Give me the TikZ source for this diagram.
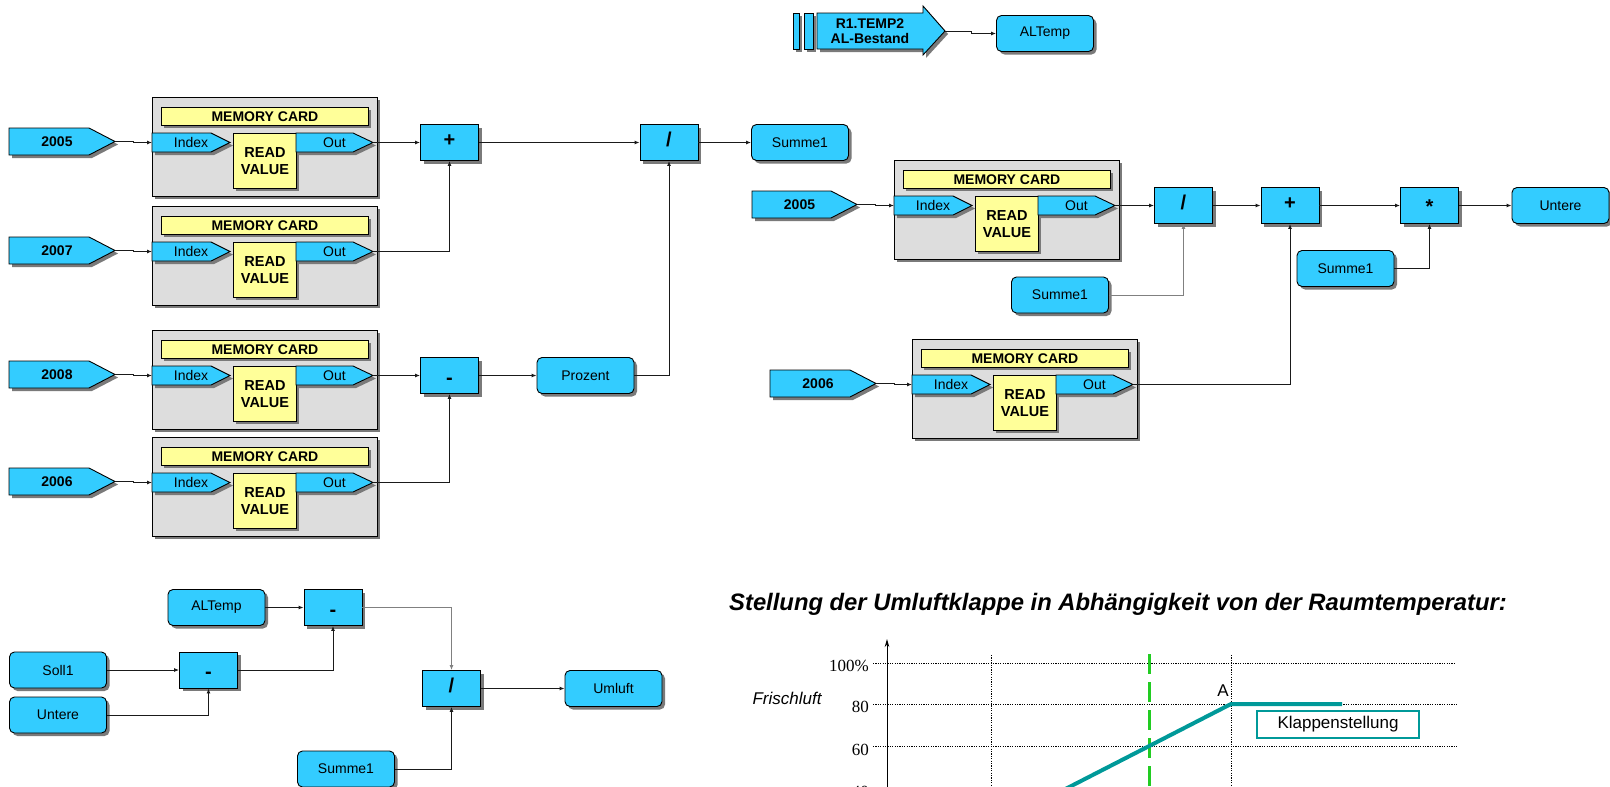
\documentclass[tikz,border=0pt]{standalone}
\usepackage{fontspec}
\setmainfont{Liberation Sans}
\newfontfamily\numfont{Liberation Serif}
\usetikzlibrary{arrows.meta,shadows}

\definecolor{cyanb}{HTML}{33CCFF}
\definecolor{cardgray}{HTML}{DDDDDD}
\definecolor{padyellow}{HTML}{FFFF99}
\definecolor{shadowgray}{HTML}{7A7A7A}
\definecolor{wire}{HTML}{1A1A1A}
\definecolor{wiregray}{HTML}{808080}
\definecolor{curveteal}{HTML}{009999}
\definecolor{markgreen}{HTML}{22CC22}

\newcommand\fs[1]{\fontsize{#1pt}{#1pt}\selectfont}
% operator glyphs moved to sit like the block symbols
\newcommand\opminus{\raisebox{-4.5pt}{-}}
\newcommand\optimes{\raisebox{-4pt}{*}}

\tikzset{
  shd/.style={drop shadow={shadow xshift=3pt, shadow yshift=-3pt, opacity=1, fill=shadowgray}},
  blk/.style={draw=black, line width=0.9pt},
  opbox/.style={blk, fill=cyanb, minimum width=58pt, minimum height=36pt, inner sep=0pt,
    text height=14pt, text depth=6pt, font=\fs{20}\bfseries, shd},
  valbox/.style={blk, fill=cyanb, rounded corners=5pt, minimum width=97pt, minimum height=36pt,
    inner sep=0pt, font=\fs{14}, shd},
  cardbox/.style={blk, fill=cardgray, minimum width=225pt, minimum height=99pt, inner sep=0pt,
    anchor=north west, shd},
  cardtitle/.style={blk, fill=padyellow, minimum width=207pt, minimum height=18pt, inner sep=0pt,
    anchor=north west, font=\fs{14}\bfseries, shd},
  readbox/.style={blk, fill=padyellow, minimum width=63pt, minimum height=55pt, inner sep=0pt,
    anchor=north west, font=\fontsize{14.5pt}{17pt}\selectfont\bfseries, align=center, shd},
  tagshape/.style={blk, fill=cyanb, shd},
  tagtxt/.style={font=\fs{14}\bfseries, inner sep=0pt, xshift=-5pt},
  porttxt/.style={font=\fs{14}, inner sep=0pt},
  wirec/.style={draw=wire, line width=0.9pt, -{Latex[length=5pt,width=4pt]}},
  wireg/.style={wirec, draw=wiregray},
  dotline/.style={draw=black, line width=0.9pt, dash pattern=on 1.2pt off 1.2pt},
  axisnum/.style={font=\numfont\fs{17}, anchor=east, inner sep=0pt},
}

% pointed tag: name, left, top, bottom, shoulder x, tip x, text style, text
\newcommand\tagbox[8]{%
  \path[tagshape] (#2,#3) -- (#5,#3) -- (#6,{(#3+#4)/2}) -- (#5,#4) -- (#2,#4) -- cycle;
  \coordinate (#1-w) at (#2,{(#3+#4)/2});
  \coordinate (#1-tip) at (#6,{(#3+#4)/2});
  \node[#7] (#1) at ({(#2+#6)/2},{(#3+#4)/2}) {#8};
}

% memory card block: name, left, top
\newcommand\memcard[3]{%
  \begin{scope}[shift={(#2,#3)}]
    \node[cardbox] (#1) at (0,0) {};
    \node[cardtitle] (#1-title) at (9,10) {MEMORY CARD};
    \node[readbox] (#1-read) at (81,36) {READ\\VALUE};
    \tagbox{#1-idx}{0}{36}{55}{59}{78}{porttxt}{Index}
    \tagbox{#1-out}{144}{36}{55}{201}{221}{porttxt}{Out}
  \end{scope}}

\begin{document}
\begin{tikzpicture}[x=1pt,y=-1pt]
\useasboundingbox (0,0) rectangle (1610,787);

% ---------- source tag at the top ----------
\path[tagshape] (793,13) rectangle (799,49);
\path[tagshape] (804,13) rectangle (813,49);
\path[tagshape] (817,13) -- (923,13) -- (923,6) -- (945,31) -- (923,55) -- (923,49) -- (817,49) -- cycle;
\node[font=\fontsize{14pt}{15pt}\selectfont\bfseries, align=center, inner sep=0pt] (r1) at (870,31) {R1.TEMP2\\AL-Bestand};
\coordinate (r1-tip) at (945,31);
\node[valbox] (altempA) at (1045,33.5) {ALTemp};
\draw[wirec] (r1-tip) -- ++(26,0) |- (altempA.west);

% ---------- left group ----------
\memcard{mc1}{152}{97}
\memcard{mc2}{152}{206}
\memcard{mc3}{152}{330}
\memcard{mc4}{152}{437}
\tagbox{in1}{9}{128}{155}{89}{115}{tagtxt}{2005}
\tagbox{in2}{9}{237}{264}{89}{115}{tagtxt}{2007}
\tagbox{in3}{9}{361}{388}{89}{115}{tagtxt}{2008}
\tagbox{in4}{9}{468}{495}{89}{115}{tagtxt}{2006}

\node[opbox] (plus1) at (449.5,142.5) {+};
\node[opbox] (minus1) at (449.5,375.5) {\opminus};
\node[opbox] (div1) at (669,142.5) {/};
\node[valbox] (summeA) at (800,142.5) {Summe1};
\node[valbox] (prozent) at (585.5,375.5) {Prozent};

\draw[wirec] (in1-tip) -- ++(18,0) |- (mc1-idx-w);
\draw[wirec] (in2-tip) -- ++(18,0) |- (mc2-idx-w);
\draw[wirec] (in3-tip) -- ++(18,0) |- (mc3-idx-w);
\draw[wirec] (in4-tip) -- ++(18,0) |- (mc4-idx-w);
\draw[wirec] (mc1-out-tip) -- (plus1.west);
\draw[wirec] (mc2-out-tip) -| (plus1.south);
\draw[wirec] (mc3-out-tip) -- (minus1.west);
\draw[wirec] (mc4-out-tip) -| (minus1.south);
\draw[wirec] (plus1.east) -- (div1.west);
\draw[wirec] (div1.east) -- (summeA.west);
\draw[wirec] (minus1.east) -- (prozent.west);
\draw[wirec] (prozent.east) -| (div1.south);

% ---------- right group ----------
\memcard{mr1}{894}{160}
\memcard{mr2}{912}{339}
\tagbox{inr1}{752}{191}{218}{831}{857}{tagtxt}{2005}
\tagbox{inr2}{770}{370}{397}{850}{876}{tagtxt}{2006}

\node[opbox] (div2) at (1183.5,205.5) {/};
\node[opbox] (plus2) at (1290,205.5) {+};
\node[opbox] (mul) at (1429.5,205.5) {\optimes};
\node[valbox] (untereA) at (1560.5,205.5) {Untere};
\node[valbox] (summeB) at (1060,295) {Summe1};
\node[valbox] (summeC) at (1345.5,268.5) {Summe1};

\draw[wirec] (inr1-tip) -- ++(18,0) |- (mr1-idx-w);
\draw[wirec] (inr2-tip) -- ++(18,0) |- (mr2-idx-w);
\draw[wirec] (mr1-out-tip) -- (div2.west);
\draw[wirec] (div2.east) -- (plus2.west);
\draw[wirec] (plus2.east) -- (mul.west);
\draw[wirec] (mul.east) -- (untereA.west);
\draw[wireg] (summeB.east) -| (div2.south);
\draw[wirec] (summeC.east) -| (mul.south);
\draw[wirec] (mr2-out-tip) -| (plus2.south);

% ---------- bottom-left group ----------
\node[valbox] (altempB) at (216.5,607.5) {ALTemp};
\node[opbox] (minusA) at (333,607.5) {\opminus};
\node[valbox] (soll) at (58,670) {Soll1};
\node[opbox] (minusB) at (208.5,670) {\opminus};
\node[valbox] (untereB) at (58,715) {Untere};
\node[opbox] (divB) at (451.5,688.5) {/};
\node[valbox] (umluft) at (613.5,688.5) {Umluft};
\node[valbox] (summeD) at (346,769) {Summe1};

\draw[wirec] (altempB.east) -- (minusA.west);
\draw[wirec] (soll.east) -- (minusB.west);
\draw[wirec] (untereB.east) -| (minusB.south);
\draw[wirec] (minusB.east) -| (minusA.south);
\draw[wireg] (minusA.east) -| (divB.north);
\draw[wirec] (divB.east) -- (umluft.west);
\draw[wirec] (summeD.east) -| (divB.south);

% ---------- damper position chart ----------
\node[font=\fs{23.8}\bfseries\itshape, anchor=west, inner sep=0pt] (charttitle) at (729,604)
  {Stellung der Umluftklappe in Abhängigkeit von der Raumtemperatur:};

\coordinate (ybot) at (887,800);
\coordinate (ytop) at (887,639);
\draw[dotline] (873,663) -- (1454,663);
\draw[dotline] (873,704) -- (1457,704);
\draw[dotline] (873,746) -- (1457,746);
\draw[dotline] (873,787) -- (1457,787);
\draw[dotline] (991,655) -- (991,800);
\draw[dotline] (1231,655) -- (1231,800);
\draw[draw=black, line width=0.9pt, -{Stealth[length=8pt,width=4.5pt]}] (ybot) -- (ytop);
\draw[markgreen, line width=3pt, dash pattern=on 20pt off 8pt] (1149,654) -- (1149,800);
\draw[curveteal, line width=4pt] (1044,800) -- (1231,704) -- (1342,704);

\node[axisnum] (l100) at (869,666) {100\%};
\node[axisnum] (l80) at (869,707) {80};
\node[axisnum] (l60) at (869,750) {60};
\node[axisnum] (l40) at (869,792) {40};
\node[font=\fs{17}\itshape, inner sep=0pt] (frisch) at (787,698) {Frischluft};
\node[font=\fs{17}, inner sep=0pt] (ptA) at (1223,691) {A};
\node[draw=curveteal, line width=1.2pt, fill=white, minimum width=162pt, minimum height=27pt,
  inner sep=0pt, font=\fs{17}] (legend) at (1338,724.5) {Klappenstellung};
\end{tikzpicture}
\end{document}
